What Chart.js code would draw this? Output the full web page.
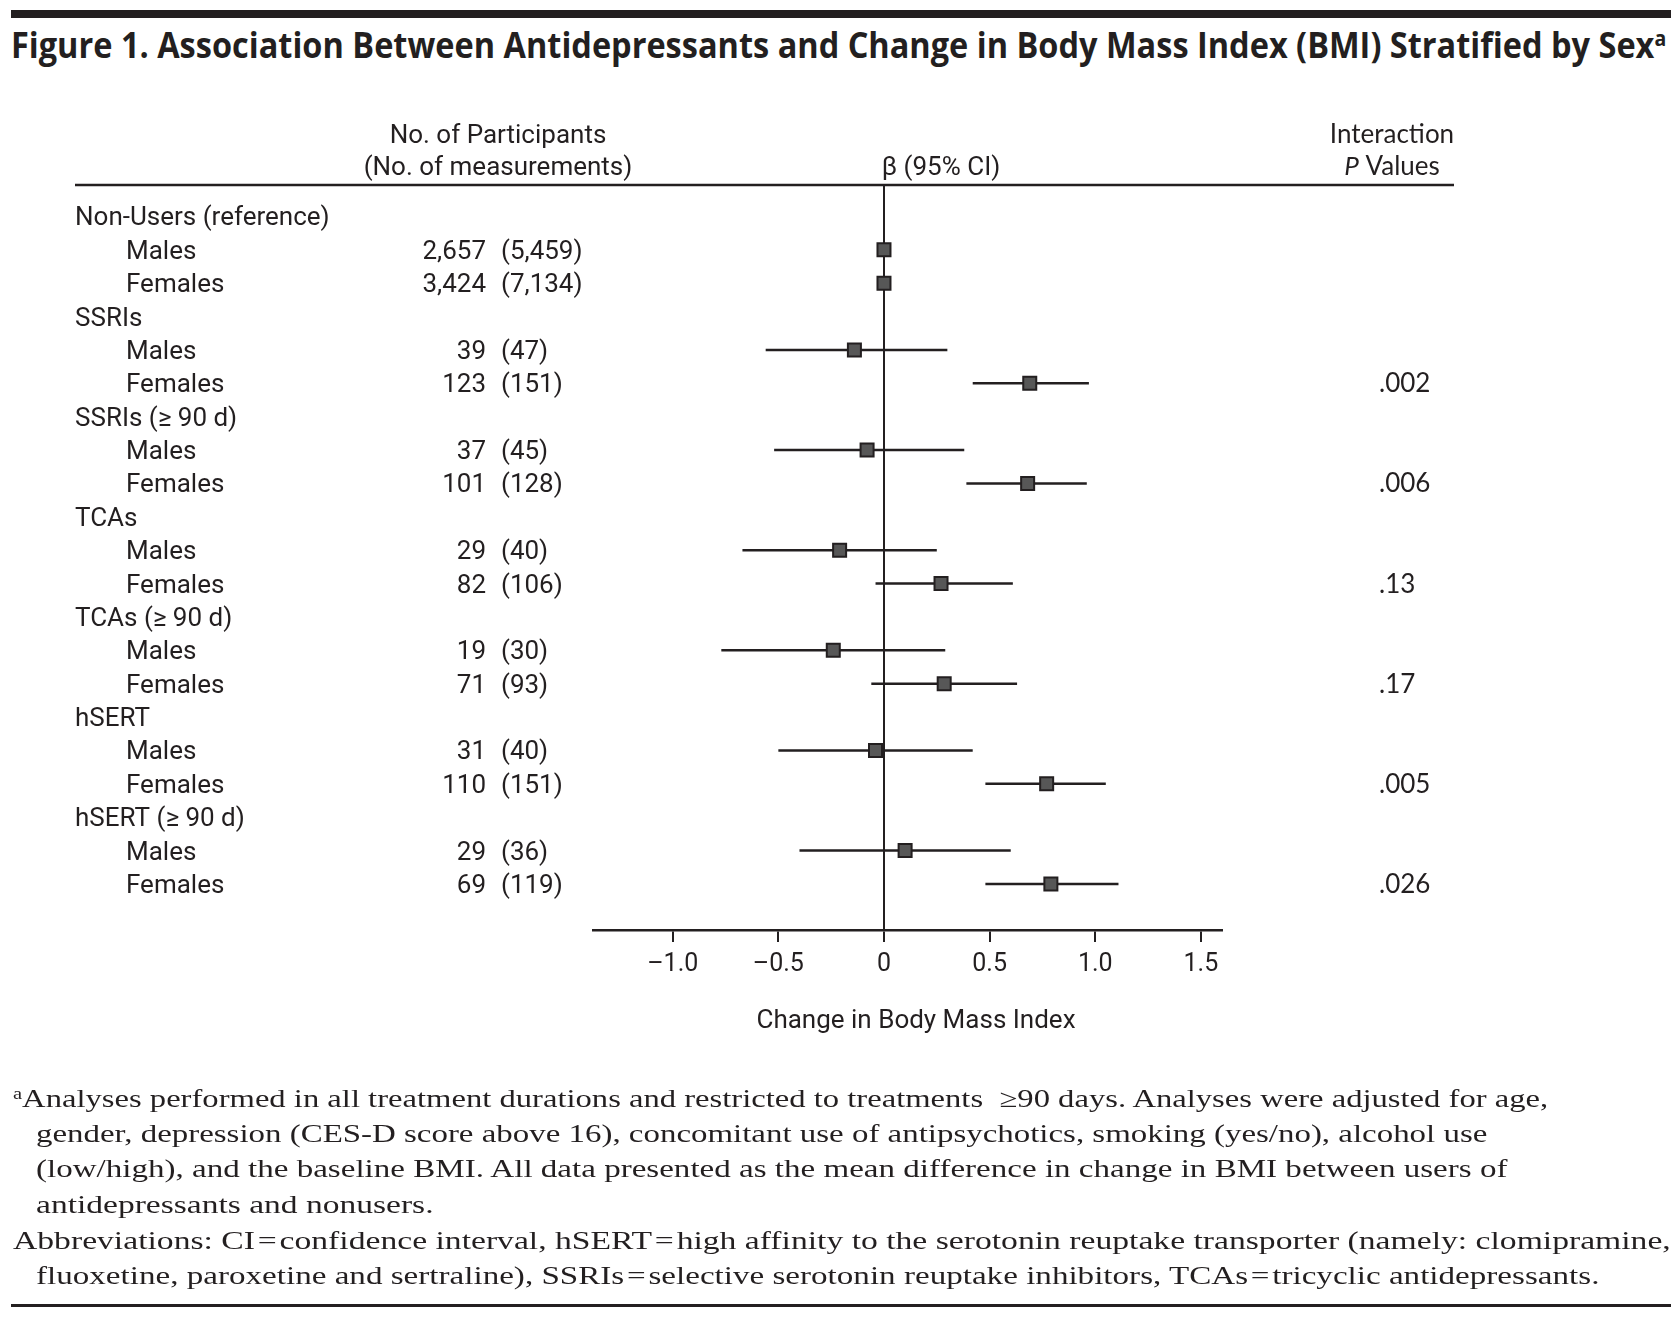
<!DOCTYPE html>
<html lang="en">
<head>
<meta charset="UTF-8" />
<title>Figure 1 - Antidepressants and Change in BMI</title>
<style>
  html, body { margin: 0; padding: 0; background: #fff; }
  body { width: 1680px; height: 1317px; position: relative; overflow: hidden; color: #231f20; }
  #chartWrap { position: absolute; left: 0; top: 0; width: 1680px; height: 1317px; }
  .rule { position: absolute; background: #231f20; }
  .fit { position: absolute; white-space: nowrap; transform-origin: 0 50%; }
  #title { font-family: "Open Sans"; font-weight: 700; font-size: 35px; line-height: 48px; }
  #title sup { font-size: 21px; vertical-align: 0; position: relative; top: -12px; }
  .note { font-family: "Liberation Serif"; font-size: 25.5px; line-height: 36px; }
  .note sup { font-size: 16px; position: relative; top: -8px; vertical-align: 0; }
</style>
</head>
<body>
  <div class="rule" style="left:11px; top:10px; width:1660px; height:8px;"></div>
  <div id="title" class="fit" data-w="1655" style="left:11px; top:21px;">Figure 1. Association Between Antidepressants and Change in Body Mass Index (BMI) Stratified by Sex<sup>a</sup></div>

  <div id="chartWrap"><canvas id="forest"></canvas></div>

  <!-- Notas al pie -->
  <div class="note fit" data-w="1535" style="left:13px; top:1081px;"><sup>a</sup>Analyses performed in all treatment durations and restricted to treatments &nbsp;≥90 days. Analyses were adjusted for age,</div>
  <div class="note fit" data-w="1451" style="left:36px; top:1116px;">gender, depression (CES-D score above 16), concomitant use of antipsychotics, smoking (yes/no), alcohol use</div>
  <div class="note fit" data-w="1471" style="left:36px; top:1151px;">(low/high), and the baseline BMI. All data presented as the mean difference in change in BMI between users of</div>
  <div class="note fit" data-w="397" style="left:36px; top:1187px;">antidepressants and nonusers.</div>
  <div class="note fit" data-w="1658" style="left:13px; top:1223px;">Abbreviations: CI&#8202;=&#8202;confidence interval, hSERT&#8202;=&#8202;high affinity to the serotonin reuptake transporter (namely: clomipramine,</div>
  <div class="note fit" data-w="1564" style="left:36px; top:1258px;">fluoxetine, paroxetine and sertraline), SSRIs&#8202;=&#8202;selective serotonin reuptake inhibitors, TCAs&#8202;=&#8202;tricyclic antidepressants.</div>
  <div class="rule" style="left:11px; top:1304px; width:1660px; height:3px;"></div>

  <script src="https://cdn.jsdelivr.net/npm/chart.js"></script>
  <script>
    // Datos
    const groupNames = ['Non-Users (reference)', 'SSRIs', 'SSRIs (≥ 90 d)', 'TCAs', 'TCAs (≥ 90 d)', 'hSERT', 'hSERT (≥ 90 d)'];
    const sexNames = ['Males', 'Females'];
    const participants = ['2,657', '3,424', '39', '123', '37', '101', '29', '82', '19', '71', '31', '110', '29', '69'];
    const measurements = ['(5,459)', '(7,134)', '(47)', '(151)', '(45)', '(128)', '(40)', '(106)', '(30)', '(93)', '(40)', '(151)', '(36)', '(119)'];
    const betaEst = [0, 0, -0.14, 0.69, -0.08, 0.68, -0.21, 0.27, -0.24, 0.285, -0.04, 0.77, 0.10, 0.79];
    const ciLower = [null, null, -0.56, 0.42, -0.52, 0.39, -0.67, -0.04, -0.77, -0.06, -0.50, 0.48, -0.40, 0.48];
    const ciUpper = [null, null, 0.30, 0.97, 0.38, 0.96, 0.25, 0.61, 0.29, 0.63, 0.42, 1.05, 0.60, 1.11];
    const pInteraction = ['', '', '', '.002', '', '.006', '', '.13', '', '.17', '', '.005', '', '.026'];
    const xTickValues = [-1.0, -0.5, 0, 0.5, 1.0, 1.5];

    const ink = '#231f20';
    const labelFont = '26px Roboto';
    const pFont = '26px Lato';

    // fila de cada subgrupo: cabecera de grupo + Males + Females
    const rowOf = k => Math.floor(k / 2) * 3 + 1 + (k % 2);

    const pointData = betaEst.map((b, k) => ({ x: b, y: rowOf(k) }));
    const ciData = [];
    ciLower.forEach((lo, k) => {
      if (lo === null) return;
      ciData.push({ x: lo, y: rowOf(k) }, { x: ciUpper[k], y: rowOf(k) }, { x: null, y: null });
    });

    // Textos de la tabla, alineados con la escala Y del gráfico
    const tablePlugin = {
      id: 'forestTable',
      afterDraw(chart) {
        const { ctx, chartArea, scales: { y } } = chart;
        ctx.save();
        ctx.fillStyle = ink;
        ctx.strokeStyle = ink;

        // línea bajo encabezados
        ctx.lineWidth = 2.5;
        ctx.beginPath();
        ctx.moveTo(75, chartArea.top);
        ctx.lineTo(1454, chartArea.top);
        ctx.stroke();

        ctx.textBaseline = 'alphabetic';
        ctx.font = labelFont;
        ctx.textAlign = 'center';
        ctx.fillText('No. of Participants', 498, 143);
        ctx.fillText('(No. of measurements)', 498, 175);
        ctx.fillText('β (95% CI)', 941, 175);
        ctx.font = pFont;
        ctx.fillText('Interaction', 1392, 143);
        ctx.textAlign = 'left';
        ctx.font = 'italic ' + pFont;
        const pw = ctx.measureText('P').width;
        ctx.font = pFont;
        const vw = ctx.measureText(' Values').width;
        const px0 = 1392 - (pw + vw) / 2;
        ctx.font = 'italic ' + pFont;
        ctx.fillText('P', px0, 175);
        ctx.font = pFont;
        ctx.fillText(' Values', px0 + pw, 175);

        // filas
        ctx.font = labelFont;
        groupNames.forEach((g, i) => {
          ctx.textAlign = 'left';
          ctx.fillText(g, 75, y.getPixelForValue(i * 3) + 9);
        });
        betaEst.forEach((b, k) => {
          const yy = y.getPixelForValue(rowOf(k)) + 9;
          ctx.font = labelFont;
          ctx.textAlign = 'left';
          ctx.fillText(sexNames[k % 2], 126, yy);
          ctx.textAlign = 'right';
          ctx.fillText(participants[k], 486, yy);
          ctx.textAlign = 'left';
          ctx.fillText(measurements[k], 501, yy);
          if (pInteraction[k]) {
            ctx.font = pFont;
            ctx.fillText(pInteraction[k], 1379, yy);
          }
        });

        // título del eje X
        ctx.font = labelFont;
        ctx.textAlign = 'center';
        ctx.fillText('Change in Body Mass Index', 916, 1028);
        ctx.restore();
      }
    };

    new Chart(document.getElementById('forest'), {
      type: 'scatter',
      data: {
        datasets: [
          {
            label: 'β',
            data: pointData,
            pointStyle: 'rect',
            pointRadius: 9.2,
            backgroundColor: '#575757',
            borderColor: ink,
            borderWidth: 2,
            showLine: false
          },
          {
            label: '95% CI',
            data: ciData,
            showLine: true,
            spanGaps: false,
            borderColor: ink,
            borderWidth: 2.5,
            pointRadius: 0
          }
        ]
      },
      options: {
        responsive: true,
        maintainAspectRatio: false,
        animation: false,
        events: [],
        layout: { padding: { left: 593.5, right: 458, top: 185, bottom: 307 } },
        plugins: { legend: { display: false }, tooltip: { enabled: false } },
        scales: {
          x: {
            type: 'linear',
            min: -1.375,
            max: 1.6,
            afterBuildTicks: s => { s.ticks = xTickValues.map(v => ({ value: v })); },
            afterFit: s => { s.height = 80; },
            border: { display: true, color: ink, width: 2.5 },
            grid: {
              drawOnChartArea: true,
              color: c => (c.tick && c.tick.value === 0 ? ink : 'rgba(0,0,0,0)'),
              lineWidth: 2,
              drawTicks: true,
              tickLength: 12,
              tickColor: ink,
              tickWidth: 2
            },
            ticks: {
              color: ink,
              font: { family: 'Roboto', size: 25 },
              padding: 8,
              maxRotation: 0,
              callback: v => (v === 0 ? '0' : (v < 0 ? '–' : '') + Math.abs(v).toFixed(1))
            }
          },
          y: {
            type: 'linear',
            reverse: true,
            min: -0.94,
            max: 21.38,
            display: false
          }
        }
      },
      plugins: [tablePlugin]
    });

    // ajustar ancho de los textos HTML al original
    document.fonts.ready.then(() => {
      document.querySelectorAll('.fit').forEach(el => {
        const w = el.scrollWidth;
        const target = +el.dataset.w;
        if (w > 0) el.style.transform = 'scaleX(' + (target / w) + ')';
      });
    });
  </script>
</body>
</html>
